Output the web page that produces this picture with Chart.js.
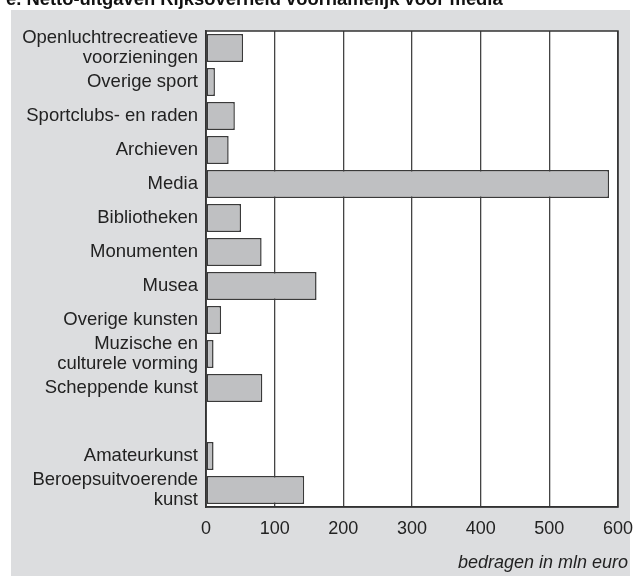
<!DOCTYPE html>
<html lang="nl">
<head>
<meta charset="UTF-8">
<title>Netto-uitgaven Rijksoverheid</title>
<script src="https://cdn.jsdelivr.net/npm/chart.js@4"></script>
<style>
  html, body { margin: 0; padding: 0; background: #fff; overflow: hidden; }
  body { width: 634px; height: 576px; position: relative; font-family: "Liberation Sans", Arial, sans-serif; }
  canvas { position: absolute; left: 0; top: 0; }
  .title { position: absolute; left: 6px; top: -11px; font-size: 18.4px; font-weight: bold; line-height: 20px; color: #111; white-space: nowrap; z-index: 2; }
</style>
</head>
<body>
<canvas id="chart" width="634" height="576"></canvas>
<div class="title">e. Netto-uitgaven Rijksoverheid voornamelijk voor media</div>
<script>
// categorieen (lege regel tussen Scheppende kunst en Amateurkunst)
const categories = [
  ['Openluchtrecreatieve', 'voorzieningen'],
  'Overige sport',
  'Sportclubs- en raden',
  'Archieven',
  'Media',
  'Bibliotheken',
  'Monumenten',
  'Musea',
  'Overige kunsten',
  ['Muzische en', 'culturele vorming'],
  'Scheppende kunst',
  '',
  'Amateurkunst',
  ['Beroepsuitvoerende', 'kunst']
];
// bedragen in mln euro
const amounts = [54, 13, 42, 33, 587, 51, 81, 161, 22, 11, 82, null, 11, 143];
const xTicks = [0, 100, 200, 300, 400, 500, 600];
const axisTitle = 'bedragen in mln euro';

const plotBox = {
  id: 'plotBox',
  beforeDraw(chart) {
    const a = chart.chartArea, ctx = chart.ctx;
    ctx.save();
    // grijs vlak
    ctx.fillStyle = '#dcdddf';
    ctx.fillRect(11, 10, 619, 566);
    ctx.fillStyle = '#ffffff';
    ctx.fillRect(a.left, a.top, a.right - a.left, a.bottom - a.top);
    ctx.restore();
  },
  afterDraw(chart) {
    const a = chart.chartArea, ctx = chart.ctx;
    ctx.save();
    ctx.strokeStyle = '#333';
    ctx.lineWidth = 1.5;
    ctx.strokeRect(a.left, a.top, a.right - a.left, a.bottom - a.top);
    // astitel
    ctx.fillStyle = '#222';
    ctx.font = 'italic 18px "Liberation Sans", Arial, sans-serif';
    ctx.textAlign = 'right';
    ctx.textBaseline = 'alphabetic';
    ctx.fillText(axisTitle, 628, 568);
    ctx.restore();
  }
};

const ctx = document.getElementById('chart').getContext('2d');
new Chart(ctx, {
  type: 'bar',
  data: {
    labels: categories,
    datasets: [{
      data: amounts,
      backgroundColor: '#bfc0c2',
      borderColor: '#3a3a3a',
      borderWidth: 1.5,
      borderSkipped: false,
      barPercentage: 0.82,
      categoryPercentage: 1
    }]
  },
  options: {
    indexAxis: 'y',
    responsive: false,
    animation: false,
    layout: { padding: { top: 31, right: 0, left: 0, bottom: 0 } },
    plugins: {
      legend: { display: false },
      tooltip: { enabled: false }
    },
    scales: {
      x: {
        min: 0,
        max: 600,
        afterBuildTicks(scale) { scale.ticks = xTicks.map(v => ({ value: v })); },
        afterFit(scale) { scale.height = 69; scale.paddingRight = 16; scale.paddingLeft = 0; },
        grid: { color: '#444', lineWidth: 1.3, drawTicks: false },
        border: { color: '#333', width: 1.5 },
        ticks: {
          color: '#222',
          padding: 11,
          maxRotation: 0,
          font: { family: '"Liberation Sans", Arial, sans-serif', size: 18 }
        }
      },
      y: {
        afterFit(scale) { scale.width = 206; scale.paddingTop = 0; scale.paddingBottom = 0; },
        grid: { display: false, drawTicks: false },
        border: { color: '#333', width: 1.5 },
        ticks: {
          color: '#222',
          padding: 8,
          autoSkip: false,
          font: { family: '"Liberation Sans", Arial, sans-serif', size: 18.5, lineHeight: 1.1 }
        }
      }
    }
  },
  plugins: [plotBox]
});
</script>
</body>
</html>
